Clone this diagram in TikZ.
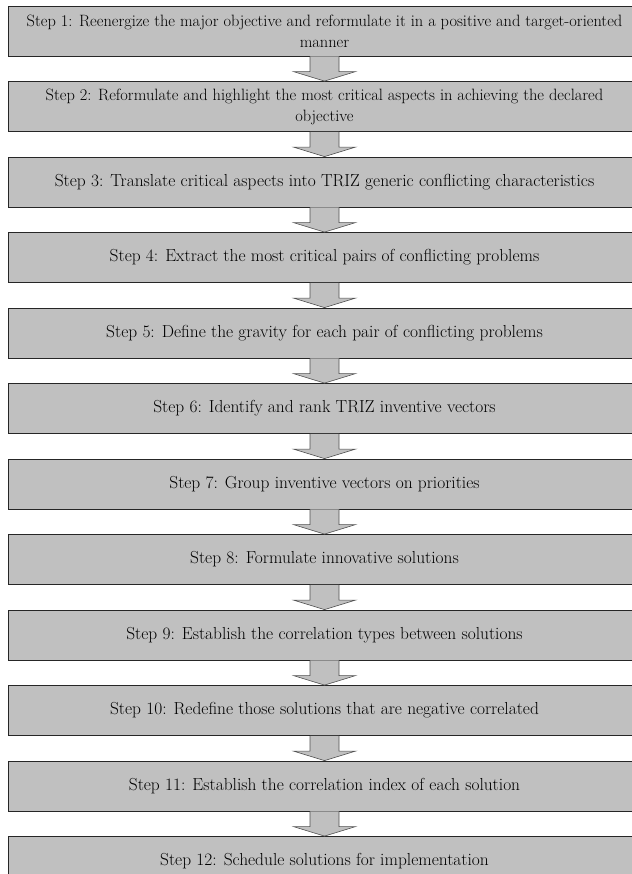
\documentclass[tikz,border=0pt]{standalone}
\usepackage{xcolor}
\usepackage{tikz}
\usetikzlibrary{calc,positioning}

\definecolor{boxgray}{RGB}{192,192,192}
\definecolor{edgegray}{RGB}{80,80,80}

\begin{document}
\begin{tikzpicture}[
    node distance=24.7pt,
    stepbox/.style={draw=black!85, line width=0.8pt, fill=boxgray, minimum width=633pt,
        minimum height=50pt, inner xsep=0pt, inner ysep=2pt, align=center,
        font=\fontsize{17.4pt}{21pt}\selectfont},
    longstep/.style={stepbox, font=\fontsize{16.4pt}{21pt}\selectfont},
    flow/.style={draw=edgegray, line width=0.6pt, fill=boxgray, line join=miter},
]
\useasboundingbox (0,0) rectangle (631pt,-874pt);

% Steps
\node[longstep] (s1) at (324.5pt,-31pt) {Step 1: Reenergize the major objective and reformulate it in a positive and target-oriented\\manner};
\node[longstep, below=of s1] (s2) {Step 2: Reformulate and highlight the most critical aspects in achieving the declared\\objective};
\node[stepbox, below=of s2] (s3) {Step 3: Translate critical aspects into TRIZ generic conflicting characteristics};
\node[stepbox, below=of s3] (s4) {Step 4: Extract the most critical pairs of conflicting problems};
\node[stepbox, below=of s4] (s5) {Step 5: Define the gravity for each pair of conflicting problems};
\node[stepbox, below=of s5] (s6) {Step 6: Identify and rank TRIZ inventive vectors};
\node[stepbox, below=of s6] (s7) {Step 7: Group inventive vectors on priorities};
\node[stepbox, below=of s7] (s8) {Step 8: Formulate innovative solutions};
\node[stepbox, below=of s8] (s9) {Step 9: Establish the correlation types between solutions};
\node[stepbox, below=of s9] (s10) {Step 10: Redefine those solutions that are negative correlated};
\node[stepbox, below=of s10] (s11) {Step 11: Establish the correlation index of each solution};
\node[stepbox, below=of s11] (s12) {Step 12: Schedule solutions for implementation};

% Block arrows between steps
\foreach \i [evaluate=\i as \j using int(\i+1)] in {1,...,11} {
  \draw[flow] ($(s\i.south)+(-14.5pt,0)$) -- ($(s\j.north)+(-14.5pt,9.5pt)$)
    -- ($(s\j.north)+(-31pt,9.5pt)$) -- (s\j.north) -- ($(s\j.north)+(31pt,9.5pt)$)
    -- ($(s\j.north)+(14.5pt,9.5pt)$) -- ($(s\i.south)+(14.5pt,0)$);
}
\end{tikzpicture}
\end{document}
